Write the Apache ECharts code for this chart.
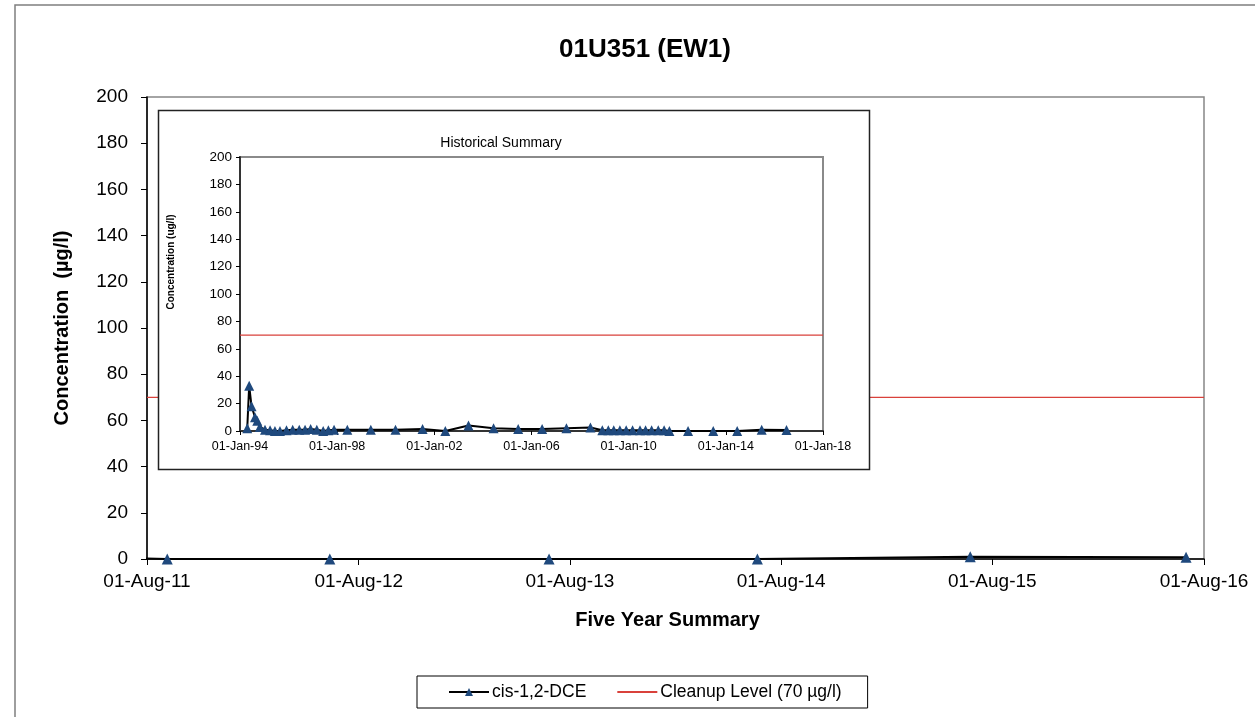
<!DOCTYPE html>
<html>
<head>
<meta charset="utf-8">
<script src="https://cdn.jsdelivr.net/npm/echarts@6/dist/echarts.min.js"></script>
<style>html,body{margin:0;padding:0;background:#fff}#c{width:1255px;height:717px}</style>
</head>
<body>
<div id="c"></div>
<script>
// ---- data ----
const SAMPLE_DATES = [
  '1994-04-20','1994-05-19','1994-06-24','1994-08-15','1994-09-17','1994-10-27',
  '1995-01-12','1995-03-29','1995-06-10','1995-08-25','1995-12-01',
  '1996-03-03','1996-06-10','1996-09-05','1996-11-28',
  '1997-03-01','1997-06-05','1997-08-22','1997-11-15',
  '1998-06-03','1999-05-22','2000-05-27','2001-07-08','2002-06-15','2003-05-30',
  '2004-06-10','2005-06-15','2006-06-10','2007-06-10','2008-06-05',
  '2008-12-01','2009-03-01','2009-05-22','2009-08-22','2009-11-25',
  '2010-03-01','2010-06-20','2010-09-12','2010-12-12','2011-03-22','2011-06-18',
  '2011-09-05','2012-06-12','2013-06-26','2014-06-21','2015-06-24','2016-07-01'
];
const CIS_DCE = [
  2,33,18,10,7.5,3,
  1,0.5,0,0,0.5,
  1,1,1,1.5,
  1,0,0.5,1,
  1,1,1,1.5,0,4,
  2,1.5,1.5,2,2.5,
  0.5,0.5,0.5,0.5,0.5,
  0.5,0.5,0.5,0.5,0.5,0.5,
  0,0,0,0,1,0.8
];
const CLEANUP_LEVEL = 70;
const MAIN_RANGE = ['2011-08-01','2016-08-01'];
const MAIN_TICKS = ['2011-08-01','2012-08-01','2013-08-01','2014-08-01','2015-08-01','2016-08-01'];
const HIST_RANGE = ['1994-01-01','2018-01-01'];
const HIST_TICKS = ['1994-01-01','1998-01-01','2002-01-01','2006-01-01','2010-01-01','2014-01-01','2018-01-01'];
const Y_TICKS = [0,20,40,60,80,100,120,140,160,180,200];

// ---- helpers ----
const toUTC = s => { const p = s.split('-'); return Date.UTC(+p[0], +p[1]-1, +p[2]); };
const MON = ['Jan','Feb','Mar','Apr','May','Jun','Jul','Aug','Sep','Oct','Nov','Dec'];
const fmt = v => { const d = new Date(v); return String(d.getUTCDate()).padStart(2,'0') + '-' + MON[d.getUTCMonth()] + '-' + String(d.getUTCFullYear()).slice(2); };
const series = SAMPLE_DATES.map((d,i) => [toUTC(d), CIS_DCE[i]]);
const mainMin = toUTC(MAIN_RANGE[0]), mainMax = toUTC(MAIN_RANGE[1]);
const histMin = toUTC(HIST_RANGE[0]), histMax = toUTC(HIST_RANGE[1]);

const FONT = '"Liberation Sans", Arial, sans-serif';
const MAIN = {left:147, right:51, top:97, bottom:158};
const INSET = {left:240, right:432, top:157, bottom:286};
const NAME1 = 'cis-1,2-DCE', NAME2 = 'Cleanup Level (70 µg/l)';

const chart = echarts.init(document.getElementById('c'), null, {renderer:'canvas'});
chart.setOption({
  animation: false,
  backgroundColor: '#fff',
  textStyle: {fontFamily: FONT},
  title: [
    {text:'01U351 (EW1)', left:640, top:32, textAlign:'center',
     textStyle:{fontFamily:FONT, fontSize:26, fontWeight:'bold', color:'#000'}},
    {text:'Historical Summary', left:496, top:131, textAlign:'center', z:8,
     textStyle:{fontFamily:FONT, fontSize:14, fontWeight:'normal', color:'#000'}}
  ],
  graphic: [
    {type:'rect', z:0, shape:{x:15, y:5, width:1260, height:730},
     style:{fill:'none', stroke:'#7f7f7f', lineWidth:1.5}},
    {type:'rect', z:3, shape:{x:158.5, y:110.5, width:711, height:359},
     style:{fill:'#fff', stroke:'#222', lineWidth:1.5}},
    {type:'text', z:9, x:171, y:262, rotation:Math.PI/2,
     style:{text:'Concentration (ug/l)', font:'bold 10px ' + FONT, fill:'#000', align:'center', verticalAlign:'middle'}}
  ],
  legend: {
    data:[{name:NAME1}, {name:NAME2, itemStyle:{opacity:0}}], left:417, top:676,
    padding:[7, 26, 7, 31], itemGap:30, itemWidth:40, itemHeight:10,
    borderColor:'#000', borderWidth:1, backgroundColor:'#fff',
    textStyle:{fontFamily:FONT, fontSize:17.5, color:'#000', padding:[0,0,0,-2]}
  },
  grid: [
    Object.assign({show:true, borderColor:'#868686', borderWidth:1.5, z:0}, MAIN),
    Object.assign({show:true, borderColor:'#8a8a8a', borderWidth:2, backgroundColor:'#fff', z:5}, INSET)
  ],
  xAxis: [
    {type:'value', gridIndex:0, min:mainMin, max:mainMax, z:1,
     name:'Five Year Summary', nameLocation:'middle', nameGap:51,
     nameTextStyle:{fontFamily:FONT, fontSize:20, fontWeight:'bold', color:'#000', padding:[0,16,0,0]},
     axisLine:{onZero:false, lineStyle:{color:'#000', width:1.5}},
     axisTick:{show:true, length:6, customValues:MAIN_TICKS.map(toUTC), lineStyle:{color:'#000'}},
     axisLabel:{customValues:MAIN_TICKS.map(toUTC), formatter:fmt, fontSize:19, color:'#000', margin:13, showMinLabel:true, showMaxLabel:true},
     splitLine:{show:false}},
    {type:'value', gridIndex:1, min:histMin, max:histMax, z:6,
     axisLine:{onZero:false, lineStyle:{color:'#333', width:2}},
     axisTick:{show:true, length:4, customValues:HIST_TICKS.map(toUTC), lineStyle:{color:'#000'}},
     axisLabel:{customValues:HIST_TICKS.map(toUTC), formatter:fmt, fontSize:12.5, color:'#000', margin:9, showMinLabel:true, showMaxLabel:true},
     splitLine:{show:false}}
  ],
  yAxis: [
    {type:'value', gridIndex:0, min:Y_TICKS[0], max:Y_TICKS[Y_TICKS.length-1], interval:Y_TICKS[1]-Y_TICKS[0], z:1,
     name:'Concentration  (µg/l)', nameLocation:'middle', nameGap:75,
     nameTextStyle:{fontFamily:FONT, fontSize:20, fontWeight:'bold', color:'#000'},
     axisLine:{show:true, onZero:false, lineStyle:{color:'#000', width:1.5}},
     axisTick:{show:true, length:6, lineStyle:{color:'#000'}},
     axisLabel:{fontSize:19, color:'#000', margin:19},
     splitLine:{show:false}},
    {type:'value', gridIndex:1, min:Y_TICKS[0], max:Y_TICKS[Y_TICKS.length-1], interval:Y_TICKS[1]-Y_TICKS[0], z:6,
     axisLine:{show:true, onZero:false, lineStyle:{color:'#333', width:2}},
     axisTick:{show:true, length:4, lineStyle:{color:'#000'}},
     axisLabel:{fontSize:13.5, color:'#000', margin:8},
     splitLine:{show:false}}
  ],
  series: [
    {name:NAME2, type:'line', xAxisIndex:0, yAxisIndex:0, z:2, symbol:'none',
     data:[[mainMin, CLEANUP_LEVEL],[mainMax, CLEANUP_LEVEL]],
     lineStyle:{color:'#d9413b', width:1.2}, itemStyle:{color:'#d9413b'}},
    {name:NAME1, type:'line', xAxisIndex:0, yAxisIndex:0, z:2, data:series,
     symbol:'triangle', symbolSize:11, showAllSymbol:true,
     lineStyle:{color:'#000', width:2}, itemStyle:{color:'#1F497D', borderWidth:0}},
    {name:NAME2, type:'line', xAxisIndex:1, yAxisIndex:1, z:7, symbol:'none',
     data:[[histMin, CLEANUP_LEVEL],[histMax, CLEANUP_LEVEL]],
     lineStyle:{color:'#d9413b', width:1.2}, itemStyle:{color:'#d9413b'}},
    {name:NAME1, type:'line', xAxisIndex:1, yAxisIndex:1, z:7, data:series,
     symbol:'triangle', symbolSize:10, showAllSymbol:true,
     lineStyle:{color:'#000', width:2}, itemStyle:{color:'#1F497D', borderWidth:0}}
  ]
});
</script>
</body>
</html>
